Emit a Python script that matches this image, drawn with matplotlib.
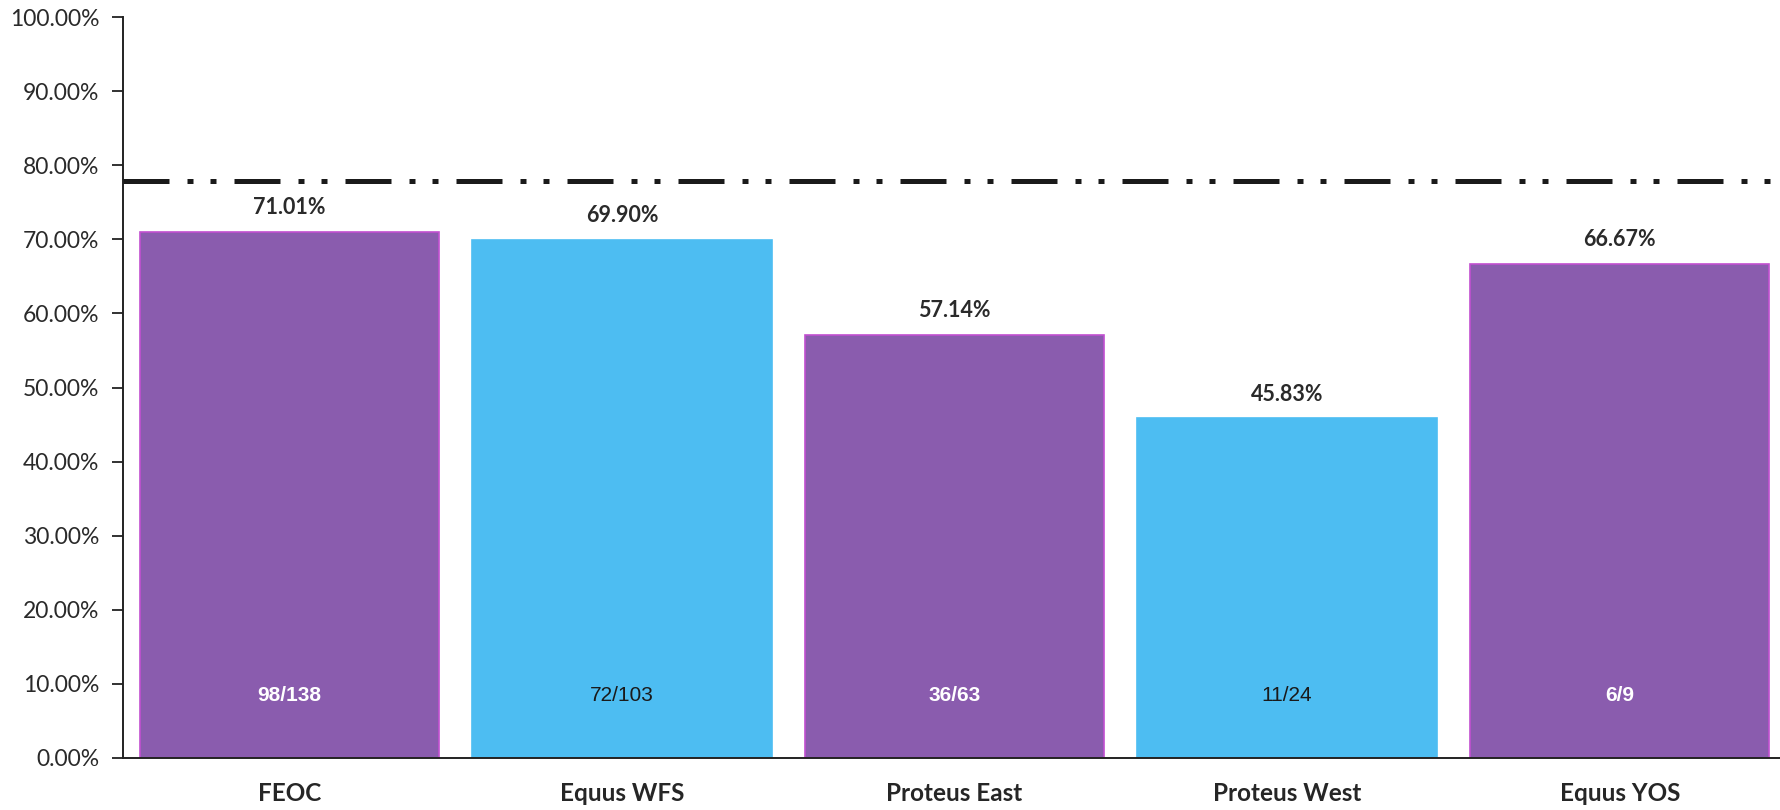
import matplotlib
matplotlib.use("Agg")
import matplotlib.pyplot as plt
from matplotlib.ticker import FuncFormatter

# data
sites = ["FEOC", "Equus WFS", "Proteus East", "Proteus West", "Equus YOS"]
rates = [0.7101, 0.6990, 0.5714, 0.4583, 0.6667]
counts = ["98/138", "72/103", "36/63", "11/24", "6/9"]
target = 0.779

purple = "#8a5cae"
blue = "#4dbdf2"
colores = [purple, blue, purple, blue, purple]
bordes = ["#c14fd0", blue, "#c14fd0", blue, "#c14fd0"]
color_txt = ["white", "#1a1a1a", "white", "#1a1a1a", "white"]

fig = plt.figure(figsize=(17.81, 8.10), dpi=100)
ax = fig.add_axes([123 / 1781, 52 / 810, (1781 - 123) / 1781, 741 / 810])

x = range(len(sites))
barras = ax.bar(x, rates, width=0.9, color=colores, edgecolor=bordes, linewidth=1.2, zorder=2)

# linea de meta (dash-dot-dot)
ax.axhline(target, color="#1a1a1a", linewidth=3.6, dashes=(9.2, 3.6, 1.2, 3.4, 1.2, 3.6),
           dash_capstyle="butt", zorder=3)

for i, b in enumerate(barras):
    ax.annotate(f"{rates[i] * 100:.2f}%", (b.get_x() + b.get_width() / 2, rates[i]),
                xytext=(0, 10), textcoords="offset points", ha="center", va="bottom",
                fontsize=15.5, fontfamily="Lato", fontweight="bold", color="#2a2a2a")
    ax.text(b.get_x() + b.get_width() / 2, 0.085, counts[i], ha="center", va="center",
            fontsize=15, fontfamily="Liberation Sans",
            fontweight="bold" if color_txt[i] == "white" else "normal",
            color=color_txt[i], zorder=4)

ax.set_ylim(0, 1)
ax.set_xlim(-0.5, 4.485)
ax.set_yticks([i / 10 for i in range(11)])
ax.yaxis.set_major_formatter(FuncFormatter(lambda v, p: f"{v * 100:.2f}%"))
ax.set_xticks(list(x))
ax.set_xticklabels(sites, fontfamily="Lato", fontweight="bold", fontsize=17.5, color="#262626")
for t in ax.get_yticklabels():
    t.set_fontfamily("Lato")
    t.set_fontsize(16.5)
    t.set_color("#2a2a2a")

ax.tick_params(axis="y", length=8, width=1.3, pad=9, color="#222222")
ax.tick_params(axis="x", length=0, pad=17)
ax.spines["top"].set_visible(False)
ax.spines["right"].set_visible(False)
ax.spines["left"].set_linewidth(1.4)
ax.spines["bottom"].set_linewidth(1.4)
ax.spines["left"].set_color("#222222")
ax.spines["bottom"].set_color("#222222")

fig.savefig("out.png", dpi=100)
